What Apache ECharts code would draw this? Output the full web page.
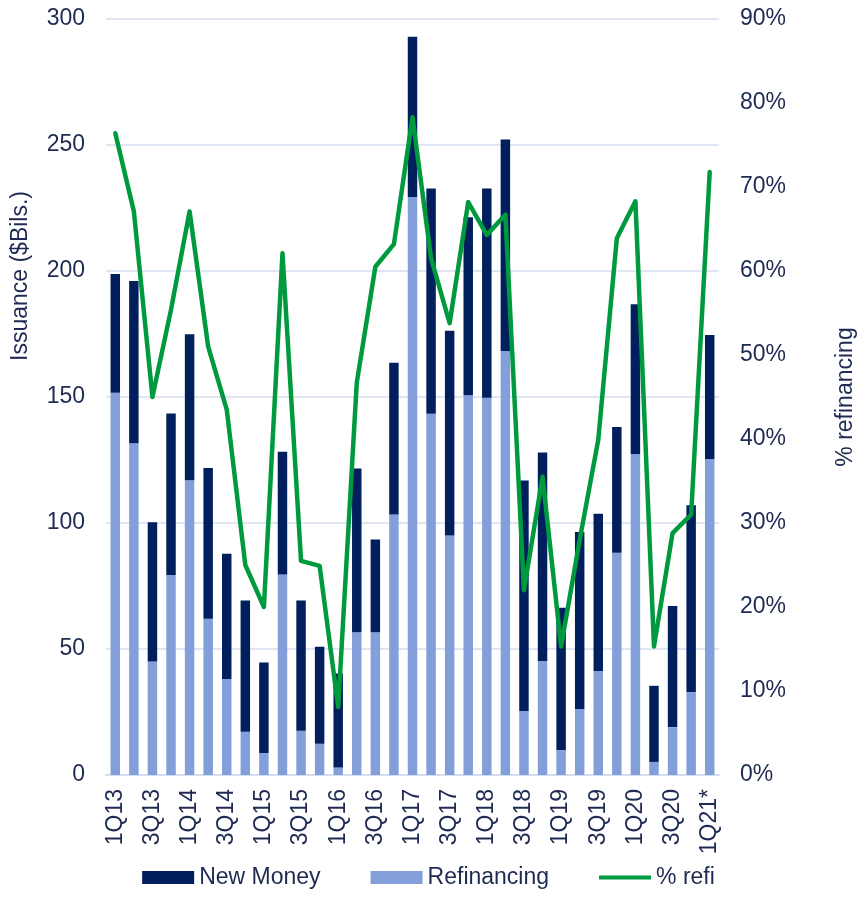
<!DOCTYPE html>
<html>
<head>
<meta charset="utf-8">
<script src="https://cdn.jsdelivr.net/npm/echarts@6/dist/echarts.min.js"></script>
<style>
    html, body { margin: 0; padding: 0; background: #fff; }
    #chart { width: 857px; height: 900px; }
</style>
</head>
<body>
<div id="chart"></div>
<script>
// Quarterly issuance, $ bils
var quarters = [
    '1Q13', '2Q13', '3Q13', '4Q13', '1Q14', '2Q14', '3Q14', '4Q14',
    '1Q15', '2Q15', '3Q15', '4Q15', '1Q16', '2Q16', '3Q16', '4Q16',
    '1Q17', '2Q17', '3Q17', '4Q17', '1Q18', '2Q18', '3Q18', '4Q18',
    '1Q19', '2Q19', '3Q19', '4Q19', '1Q20', '2Q20', '3Q20', '4Q20', '1Q21*'
];
var refinancing = [
    151.7, 131.6, 45, 79.4, 117, 62, 38.1, 17.2,
    8.7, 79.6, 17.6, 12.4, 3, 56.6, 56.6, 103.4,
    229.4, 143.4, 95, 150.7, 149.7, 168.3, 25.4, 45.2,
    9.9, 26.2, 41.3, 88.2, 127.4, 5.2, 19, 32.9, 125.4
];
var newMoney = [
    47.1, 64.4, 55.3, 64.1, 57.9, 59.8, 49.7, 52,
    35.9, 48.7, 51.6, 38.5, 37.3, 65, 36.9, 60.2,
    63.6, 89.3, 81.3, 70.6, 83, 83.9, 91.5, 82.8,
    56.5, 70.2, 62.4, 49.9, 59.4, 30.2, 48.1, 74.1, 49.2
];
var pctRefi = [
    76.4, 67.1, 45, 55.4, 67.1, 51, 43.5, 25,
    20, 62.1, 25.5, 24.9, 8.1, 46.7, 60.5, 63.2,
    78.3, 61.5, 53.8, 68.2, 64.3, 66.7, 22, 35.5,
    15.3, 28, 39.9, 63.9, 68.3, 15.3, 28.8, 31, 71.8
];

var TEXT = '#1e2a52';
var GRID = '#d6ddf1';
var FONT = '"Liberation Sans", Arial, sans-serif';

var chart = echarts.init(document.getElementById('chart'), null, { renderer: 'canvas' });
chart.setOption({
    animation: false,
    textStyle: { fontFamily: FONT, color: TEXT },
    // fixed plot box; don't let v6 shrink it to fit the axis names
    grid: { left: 106, right: 138, top: 19, bottom: 125, containLabel: false, outerBoundsMode: 'none' },
    legend: {
        bottom: 6,
        left: 'center',
        itemWidth: 52,
        itemHeight: 13,
        itemGap: 50,
        textStyle: { fontSize: 23, color: TEXT, fontFamily: FONT },
        data: [
            { name: 'New Money', icon: 'rect' },
            { name: 'Refinancing', icon: 'rect' },
            // plain line swatch, no dot
            { name: '% refi', icon: 'path://M0,0 H52 V4 H0 Z' }
        ]
    },
    xAxis: {
        type: 'category',
        data: quarters,
        axisTick: { show: false },
        axisLine: { lineStyle: { color: GRID, width: 2 } },
        axisLabel: {
            interval: 1,
            rotate: 90,
            margin: 14,
            fontSize: 23,
            color: TEXT,
            fontFamily: FONT
        }
    },
    yAxis: [
        {
            type: 'value',
            min: 0, max: 300, interval: 50,
            name: 'Issuance ($Bils.)',
            nameLocation: 'middle',
            nameRotate: 90,
            nameGap: 74,
            nameTextStyle: { fontSize: 23, color: TEXT, fontFamily: FONT, padding: [0, 0, 0, 242] },
            axisLine: { show: false },
            axisTick: { show: false },
            axisLabel: { fontSize: 23, color: TEXT, margin: 21, fontFamily: FONT },
            splitLine: { lineStyle: { color: GRID, width: 1.5 } }
        },
        {
            type: 'value',
            min: 0, max: 90, interval: 10,
            name: '% refinancing',
            nameLocation: 'middle',
            nameRotate: 90,
            nameGap: 115,
            nameTextStyle: { fontSize: 23, color: TEXT, fontFamily: FONT },
            axisLine: { show: false },
            axisTick: { show: false },
            axisLabel: { fontSize: 23, color: TEXT, margin: 21, formatter: '{value}%', fontFamily: FONT },
            splitLine: { show: false }
        }
    ],
    series: [
        {
            name: 'Refinancing',
            type: 'bar',
            stack: 'iss',
            barWidth: '51%',
            itemStyle: { color: '#829fda' },
            data: refinancing
        },
        {
            name: 'New Money',
            type: 'bar',
            stack: 'iss',
            barWidth: '51%',
            itemStyle: { color: '#001f5c' },
            data: newMoney
        },
        {
            name: '% refi',
            type: 'line',
            yAxisIndex: 1,
            symbol: 'none',
            lineStyle: { color: '#009a3e', width: 4.5, join: 'round', cap: 'round' },
            itemStyle: { color: '#009a3e' },
            z: 5,
            data: pctRefi
        }
    ]
});
</script>
</body>
</html>
